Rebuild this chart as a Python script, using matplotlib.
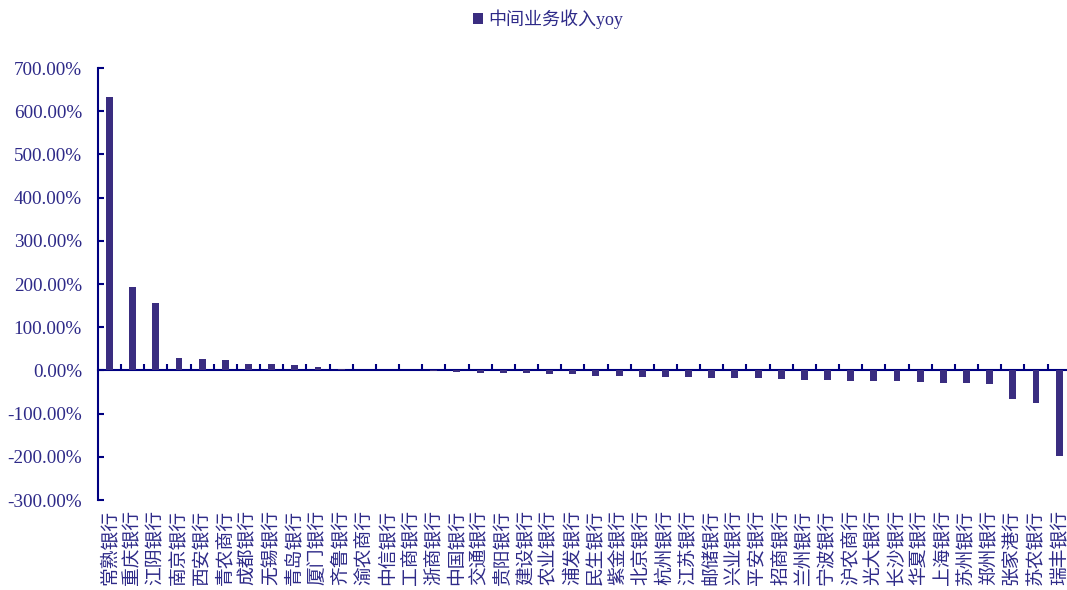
import numpy as np
import matplotlib
matplotlib.use('Agg')
from matplotlib import pyplot as plt
from matplotlib.ticker import FuncFormatter

plt.rcParams['font.family'] = ['Liberation Serif', 'Noto Sans CJK SC', 'DejaVu Sans']

banks = ['常熟银行', '重庆银行', '江阴银行', '南京银行', '西安银行', '青农商行', '成都银行',
         '无锡银行', '青岛银行', '厦门银行', '齐鲁银行', '渝农商行', '中信银行', '工商银行',
         '浙商银行', '中国银行', '交通银行', '贵阳银行', '建设银行', '农业银行', '浦发银行',
         '民生银行', '紫金银行', '北京银行', '杭州银行', '江苏银行', '邮储银行', '兴业银行',
         '平安银行', '招商银行', '兰州银行', '宁波银行', '沪农商行', '光大银行', '长沙银行',
         '华夏银行', '上海银行', '苏州银行', '郑州银行', '张家港行', '苏农银行', '瑞丰银行']
yoy = [634, 194, 155, 28, 26, 23, 15, 14, 12, 8, 3, 1, 0.5, 0, -2, -3, -5, -6, -7, -9, -9,
       -13, -14, -15, -15, -15, -17, -18, -18, -19, -22, -22, -24, -25, -25, -27, -28, -30,
       -32, -65, -75, -198]
yticks = list(range(-300, 701, 100))
series_name = '中间业务收入yoy'

bar_color = '#3A2D80'
axis_color = '#000080'
text_color = '#2E2A88'

fig = plt.figure(figsize=(10.67, 5.9), dpi=100)
ax = fig.add_axes([0.0918, 0.1525, 0.9117, 0.7322])

x = np.arange(len(banks))
ax.bar(x, yoy, width=0.3, color=bar_color, label=series_name)

ax.set_xlim(-0.5, len(banks) - 0.5)
ax.set_ylim(-300, 700)
ax.set_yticks(yticks)
ax.yaxis.set_major_formatter(FuncFormatter(lambda v, p: f'{v:.2f}%'))
ax.tick_params(axis='y', direction='in', length=4, width=1.5, color=axis_color,
               labelsize=13.8, labelcolor=text_color, pad=11.5)

ax.set_xticks(x)
ax.set_xticklabels(banks, rotation=90, fontsize=13.5, color=text_color)
ax.tick_params(axis='x', length=0, pad=7)

for s in ['top', 'right', 'bottom']:
    ax.spines[s].set_visible(False)
ax.spines['left'].set_color(axis_color)
ax.spines['left'].set_linewidth(1.5)

# category axis line at zero
zero_pos = (0 - yticks[0]) / (yticks[-1] - yticks[0])
sec = ax.secondary_xaxis(zero_pos)
sec.set_xticks(x[:-1] + 0.5)
sec.set_xticklabels([])
sec.tick_params(axis='x', direction='in', length=4, width=1.5, color=axis_color)
for s in sec.spines.values():
    s.set_color(axis_color)
    s.set_linewidth(1.5)

fig.legend(loc='center', bbox_to_anchor=(0.514, 0.968), frameon=False,
           handlelength=0.55, handleheight=0.55, handletextpad=0.3,
           prop={'size': 13}, labelcolor=text_color)

fig.savefig('out.png', dpi=100)
